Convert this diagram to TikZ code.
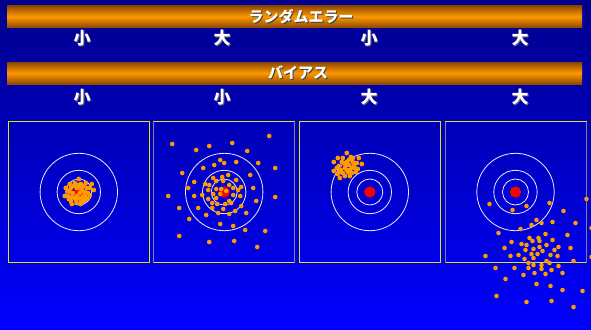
\documentclass[tikz,border=0pt]{standalone}
\usepackage{fontspec}
\usetikzlibrary{calc}
\newfontfamily\jpfont{Noto Sans CJK JP}
\definecolor{bgtop}{RGB}{0,0,140}
\definecolor{bgbot}{RGB}{0,0,255}
\definecolor{barmid}{RGB}{255,153,0}
\definecolor{baredge}{RGB}{140,70,0}
\definecolor{dotc}{RGB}{255,153,0}
\definecolor{framey}{RGB}{225,225,40}
\definecolor{frameg}{RGB}{128,128,150}
\definecolor{ringc}{RGB}{235,235,255}

\begin{document}
\begin{tikzpicture}[x=1pt,y=-1pt,
  ring/.style={draw=ringc, line width=0.8pt},
  dot/.style={fill=dotc},
  bull/.style={fill=red},
  frame/.style={draw=framey, line width=1pt},
  bar/.style={top color=baredge, bottom color=baredge, middle color=barmid},
  head/.style={font=\jpfont\bfseries\fontsize{15}{15}\selectfont, text=white, inner sep=0pt},
  headsh/.style={head, text=black!75},
  lbl/.style={font=\jpfont\bfseries\fontsize{17}{17}\selectfont, text=white, inner sep=0pt},
  lblsh/.style={lbl, text=black!60}]
  \useasboundingbox (0,0) rectangle (591,329);
  \shade[top color=bgtop, bottom color=bgbot] (0,0) rectangle (591,329);

  % title bars
  \shade[bar] (7,5.5) rectangle (582,27.7);
  \shade[bar] (7,62) rectangle (582,84.2);
  \node[headsh] (rerr-sh) at (302,17.5) {ランダムエラー};
  \node[head] (rerr) at (301,16.5) {ランダムエラー};
  \node[headsh] (bias-sh) at (299,74) {バイアス};
  \node[head] (bias) at (298,73) {バイアス};

  \foreach \x/\t [count=\i] in {82/小,222/大,369/小,520/大} {
    \node[lblsh] (r\i-sh) at (\x+1,39) {\t};
    \node[lbl] (r\i) at (\x,38) {\t};
  }
  \foreach \x/\t [count=\i] in {82/小,222/小,369/大,520/大} {
    \node[lblsh] (b\i-sh) at (\x+1,98.5) {\t};
    \node[lbl] (b\i) at (\x,97.5) {\t};
  }

  % targets
  \coordinate (p1) at (78.8,192);
  \coordinate (p2) at (224.2,192);
  \coordinate (p3) at (369.8,192);
  \coordinate (p4) at (515.5,192);
  \foreach \p in {p1,p2,p3,p4} {
    \begin{scope}[shift={(\p)}]
      \draw[frame] (-70.5,-70.5) rectangle (70.5,70.5);
      \draw[ring] (0,0) circle (38.7);
      \draw[ring] (0,0) circle (21.7);
      \draw[ring] (0,0) circle (13);
      \fill[bull] (0,0) circle (5.6);
    \end{scope}
  }
  \foreach \p in {p2,p4} {
    \draw[frameg, line width=1pt] ($(\p)+(-70.5,-70.5)$) -- ($(\p)+(-70.5,70.5)$);
    \draw[frameg, line width=1pt] ($(\p)+(70.5,-70.5)$) -- ($(\p)+(70.5,70.5)$);
  }

  % shots: small error, small bias
  \begin{scope}[shift={(p1)}]
    \foreach \dx/\dy in {0/-13,-9/-8,-4/-9,2/-8,7/-9,13/-8,-13/-4,-8/-4,-2/-4,3/-3,8/-4,15/-2,
      -14/4,-9/0,1/1,6/0,11/3,-7/5,-2/4,4/5,9/7,-8/9,-3/8,2/8,8/6,-7/12,-2/11,4/10,
      5/-6,-5/-6,11/-4,-11/4,6/3,0/6,-1/-7,3/-1,9/1,-6/1,-11/-1,-4/6,2/12,6/8,-10/7,1/-4}
      \fill[dot] (\dx,\dy) circle (2.4);
  \end{scope}
  % large error, small bias
  \begin{scope}[shift={(p2)}]
    \foreach \dx/\dy in {-52/-48,-28/-42,-15/-46,8/-49,45/-56,23/-41,-4/-32,0/-29,12/-30,34/-29,
      -21/-24,-10/-27,-42/-19,51/-24,4/-17,26/-17,-11/-14,-2/-15,12/-12,-30/-10,-19/-8,-15/-7,
      -8/-11,-1/-11,5/-7,17/-5,29/-4,-36/-4,-16/-2,-8/-3,-3/-3,9/-4,14/-2,-56/4,-30/4,-22/3,
      -11/2,-4/2,2/-1,9/3,16/4,51/5,-16/7,-8/6,-12/11,-7/12,1/12,5/9,7/11,32/9,-45/16,-26/16,
      -12/16,-1/17,17/14,11/19,-6/21,5/22,22/21,-18/23,-35/27,-4/32,9/34,21/38,41/39,-45/44,
      -15/50,10/49,33/55}
      \fill[dot] (\dx,\dy) circle (2.3);
  \end{scope}
  % small error, large bias
  \begin{scope}[shift={(p3)}]
    \foreach \dx/\dy in {-23/-39,-32/-34,-27/-34,-17/-34,-11/-34,-36/-30,-8/-28,-36/-21,-30/-14,
      -25/-16,-12/-23,-31/-26,-26/-29,-21/-32,-21/-27,-16/-27,-15/-24,-20/-22,-25/-24,-29/-22,
      -32/-18,-27/-19,-22/-20,-18/-19,-20/-16,-33/-24,-23/-30,-13/-29,-19/-35,-28/-30,-24/-27,
      -17/-30,-14/-20,-30/-20,-23/-22,-18/-24}
      \fill[dot] (\dx,\dy) circle (2.4);
  \end{scope}
  % large error, large bias
  \begin{scope}[shift={(p4)}]
    \foreach \dx/\dy in {-26/12,-3/18,11/14,34/11,71/7,48/19,21/28,16/33,26/31,37/30,60/31,5/37,
      -17/41,30/42,52/43,14/46,23/46,-4/50,6/52,11/53,17/49,24/49,37/48,-11/56,10/58,18/57,
      24/55,31/53,43/55,55/56,39/58,-30/64,-5/64,3/63,16/62,22/62,27/59,35/63,42/64,58/69,
      9/67,18/66,31/69,34/71,13/71,18/73,26/73,26/77,43/74,-1/76,13/76,36/78,-20/76,19/81,
      30/82,8/83,47/81,-10/87,21/92,35/94,47/98,67/99,-19/104,11/110,36/109,58/115,76/36,76/65}
      \fill[dot] (\dx,\dy) circle (2.3);
  \end{scope}
\end{tikzpicture}
\end{document}
